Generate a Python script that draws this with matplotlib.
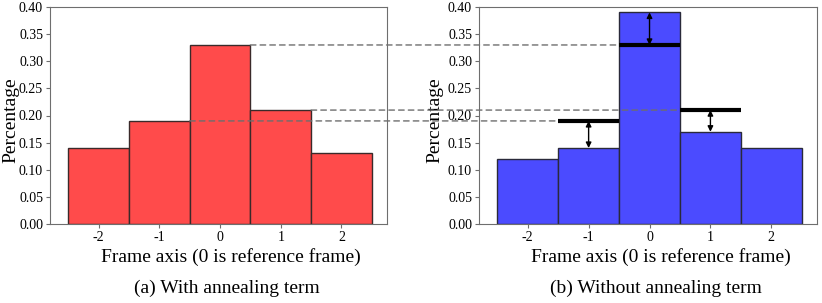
import matplotlib
import numpy as np

matplotlib.use("Agg")
import matplotlib.pyplot as plt
from matplotlib.patches import ConnectionPatch

frames = [-2, -1, 0, 1, 2]
with_annealing = [0.14, 0.19, 0.33, 0.21, 0.13]
without_annealing = [0.12, 0.14, 0.39, 0.17, 0.14]
yticks = [0.00, 0.05, 0.10, 0.15, 0.20, 0.25, 0.30, 0.35, 0.40]

# reference levels carried over from (a) into (b): (frame in a, frame in b)
carried = [(0, 0), (1, 1), (-1, -1)]

plt.rcParams["font.family"] = ["Liberation Serif", "DejaVu Serif"]

RED = "#ff4b4b"
BLUE = "#4b4bff"
GREY = "#6e6e6e"


def style_axes(ax, label_x):
    ax.set_xlim(-2.8, 2.75)
    ax.set_ylim(0, 0.40)
    ax.set_xticks(frames)
    ax.set_xticklabels([str(f) for f in frames])
    ax.set_yticks(yticks)
    ax.set_yticklabels([f"{v:.2f}" for v in yticks])
    ax.tick_params(labelsize=10, length=3, color=GREY, pad=2)
    for s in ax.spines.values():
        s.set_color(GREY)
    ax.set_ylabel("Percentage", fontsize=14)
    ax.yaxis.set_label_coords(label_x, 0.48)


fig = plt.figure(figsize=(8.22, 3.03), dpi=100)
ax1 = fig.add_axes([50 / 822, 1 - 224 / 303, 337 / 822, 217 / 303])
ax2 = fig.add_axes([479 / 822, 1 - 224 / 303, 338 / 822, 217 / 303])

ax1.bar(frames, with_annealing, width=1.0, color=RED, edgecolor="#3a2a2a", linewidth=1)
ax2.bar(frames, without_annealing, width=1.0, color=BLUE, edgecolor="#2a2a3a", linewidth=1)
style_axes(ax1, -0.09)
style_axes(ax2, -0.104)

for fa, fb in carried:
    level = with_annealing[frames.index(fa)]
    # dashed guide from the right edge of the bar in (a) to the left end of the level line in (b)
    con = ConnectionPatch(
        xyA=(fa + 0.5, level), coordsA=ax1.transData,
        xyB=(fb - 0.5, level), coordsB=ax2.transData,
        linestyle=(0, (4, 3)), color=GREY, linewidth=1, zorder=10,
    )
    fig.add_artist(con)

    # thick level line and double arrow in (b)
    ax2.hlines(level, fb - 0.5, fb + 0.5, color="black", linewidth=3, zorder=5)
    top = without_annealing[frames.index(fb)]
    ax2.annotate(
        "", xy=(fb, level), xytext=(fb, top),
        arrowprops=dict(arrowstyle="<|-|>", color="black", lw=1,
                        mutation_scale=8, shrinkA=0, shrinkB=0),
        zorder=6,
    )

fig.text(231 / 822, 1 - 257 / 303, "Frame axis (0 is reference frame)",
         fontsize=14, ha="center", va="center")
fig.text(661 / 822, 1 - 257 / 303, "Frame axis (0 is reference frame)",
         fontsize=14, ha="center", va="center")
fig.text(227 / 822, 1 - 288 / 303, "(a) With annealing term",
         fontsize=14, ha="center", va="center")
fig.text(656 / 822, 1 - 288 / 303, "(b) Without annealing term",
         fontsize=14, ha="center", va="center")

fig.savefig("out.png", dpi=100)
plt.close(fig)
